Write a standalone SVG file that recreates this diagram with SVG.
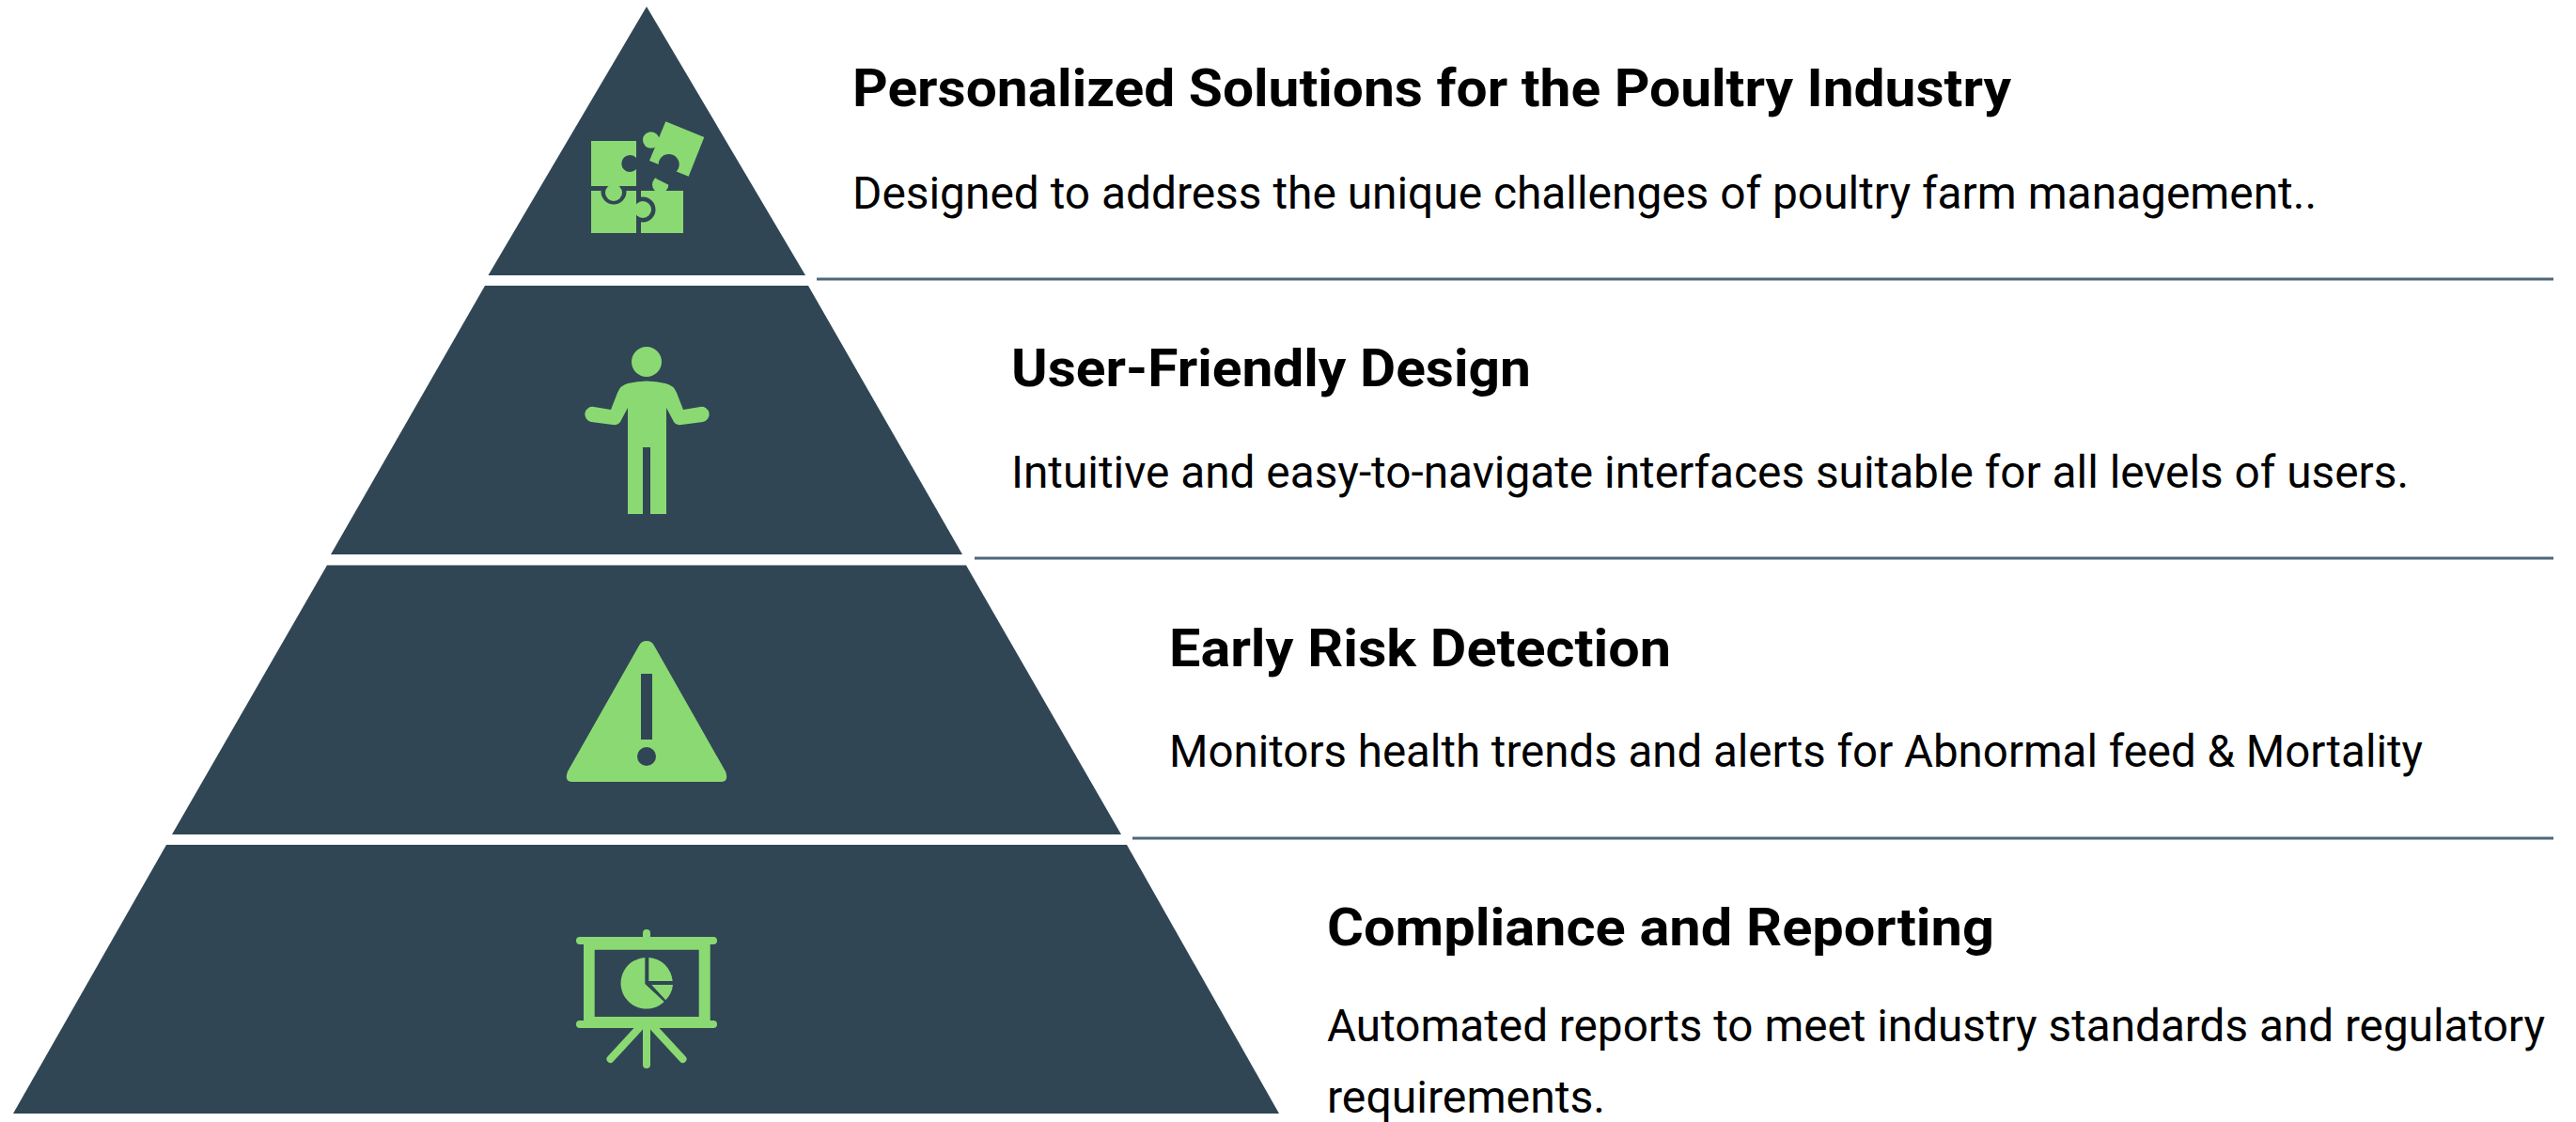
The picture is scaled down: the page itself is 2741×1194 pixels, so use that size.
<svg xmlns="http://www.w3.org/2000/svg" width="2741" height="1194" viewBox="0 0 2741 1194">
<style>
.tier{fill:#304655}
.ic{fill:#8bd973}
.cut{fill:#304655}
.sep{stroke:#50677a;stroke-width:3;fill:none}
.leg{stroke:#8bd973;stroke-width:8;stroke-linecap:round;fill:none}
.t{font-family:Roboto,"Noto Sans",sans-serif;font-weight:700;font-size:56px;fill:#000}
.b{font-family:Roboto,"Noto Sans",sans-serif;font-size:47.500px;fill:#000}
</style>
<rect width="2741" height="1194" fill="#fff"/>
<g id="connectors">
<path class="sep" d="M869 297H2717M1037 594H2717M1205 892H2717"/>
</g>
<g id="tier-1">
<polygon class="tier" points="688,7 857,293 519.500,293"/>
<rect class="ic" x="682" y="203" width="45" height="45"/>
<circle class="cut" cx="684" cy="223" r="13.500"/>
<rect class="ic" x="629" y="203" width="48" height="45"/>
<circle class="cut" cx="653" cy="204" r="13.500"/>
<circle class="ic" cx="684" cy="223" r="9"/>
<path class="ic" d="M629 150H677V168A9 9 0 1 0 677 180V198H629Z"/>
<circle class="ic" cx="653" cy="205" r="9"/>
<circle class="ic" cx="702.700" cy="196.300" r="8.700"/>
<polygon class="ic" points="708.300,129.300 749.300,146 732.700,187.700 691,171"/>
<circle class="cut" cx="711.700" cy="175" r="11"/>
<path class="cut" d="M702 180L716 186L712 197L698 190Z"/>
<circle class="ic" cx="692.700" cy="149" r="8.700"/>
<text class="t" x="907" y="113" textLength="1233" lengthAdjust="spacingAndGlyphs">Personalized Solutions for the Poultry Industry</text>
<text class="b" x="907" y="222" textLength="1558" lengthAdjust="spacingAndGlyphs">Designed to address the unique challenges of poultry farm management..</text>
</g>
<g id="tier-2">
<polygon class="tier" points="516,304 860,304 1024,590 352,590"/>
<g class="ic">
<circle cx="688" cy="385" r="16"/>
<path d="M668 408Q688 403 708 408Q717 410 720 418L727 436L745 433A8 8 0 0 1 748 449L725 452Q718 453 716 447L709 434V547H692V476H684V547H668V434L661 447Q659 453 652 452L629 449A8 8 0 0 1 632 433L650 436L657 418Q660 410 668 408Z"/>
</g>
<text class="t" x="1076" y="411" textLength="553" lengthAdjust="spacingAndGlyphs">User-Friendly Design</text>
<text class="b" x="1076" y="519" textLength="1487" lengthAdjust="spacingAndGlyphs">Intuitive and easy-to-navigate interfaces suitable for all levels of users.</text>
</g>
<g id="tier-3">
<polygon class="tier" points="348,601.500 1028,601.500 1193,888 183,888"/>
<path class="ic" fill-rule="evenodd" d="M680 687A9 9 0 0 1 696 687L772 821Q776 832 767 832H609Q600 832 604 821ZM682 717V787H694V717ZM688 795A10 10 0 1 0 688 815A10 10 0 1 0 688 795Z"/>
<text class="t" x="1244" y="709" textLength="534" lengthAdjust="spacingAndGlyphs">Early Risk Detection</text>
<text class="b" x="1244" y="816" textLength="1334" lengthAdjust="spacingAndGlyphs">Monitors health trends and alerts for Abnormal feed &amp; Mortality</text>
</g>
<g id="tier-4">
<polygon class="tier" points="177,899 1199,899 1361,1185 14,1185"/>
<path class="leg" d="M688 993V1000M617 1001H759M617 1090H759M688 1094V1133M680 1094L649.500 1127M696 1094L726.500 1127"/>
<path class="ic" fill-rule="evenodd" d="M621 1000H755.700V1090H621ZM632.700 1010.700V1082H743.700V1010.700Z"/>
<path class="ic" d="M686.300 1019V1047L706.700 1066A27.300 27.300 0 1 1 686.300 1019Z"/>
<path class="ic" d="M690.300 1019A27.300 27.300 0 0 1 715.700 1044H690.300Z"/>
<path class="ic" d="M693.300 1048H716A27.300 27.300 0 0 1 708.300 1064.300Z"/>
<text class="t" x="1412" y="1006" textLength="710" lengthAdjust="spacingAndGlyphs">Compliance and Reporting</text>
<text class="b" x="1412" y="1108" textLength="1296" lengthAdjust="spacingAndGlyphs">Automated reports to meet industry standards and regulatory</text>
<text class="b" x="1412" y="1184" textLength="296" lengthAdjust="spacingAndGlyphs">requirements.</text>
</g>
</svg>
